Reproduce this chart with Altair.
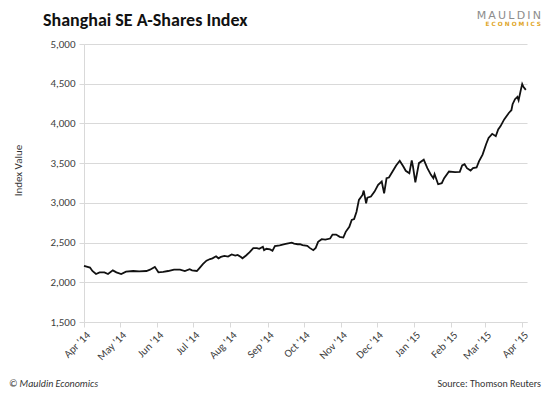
import altair as alt
import pandas as pd

# ---- data ----
dates = [
    "2014-04-01", "2014-04-06", "2014-04-08", "2014-04-11", "2014-04-14", "2014-04-18",
    "2014-04-21", "2014-04-25", "2014-04-28", "2014-05-02", "2014-05-06", "2014-05-12",
    "2014-05-17", "2014-05-23", "2014-05-26", "2014-05-30", "2014-06-02", "2014-06-06",
    "2014-06-10", "2014-06-15", "2014-06-20", "2014-06-24", "2014-06-28", "2014-06-30",
    "2014-07-04", "2014-07-06", "2014-07-09", "2014-07-12", "2014-07-15", "2014-07-17",
    "2014-07-20", "2014-07-22", "2014-07-24", "2014-07-27", "2014-07-30", "2014-08-02",
    "2014-08-05", "2014-08-07", "2014-08-10", "2014-08-11", "2014-08-14", "2014-08-17",
    "2014-08-20", "2014-08-23", "2014-08-25", "2014-08-28", "2014-08-29", "2014-08-31",
    "2014-09-03", "2014-09-05", "2014-09-07", "2014-09-11", "2014-09-16", "2014-09-21",
    "2014-09-23", "2014-09-26", "2014-09-28", "2014-09-30", "2014-10-04", "2014-10-06",
    "2014-10-09", "2014-10-11", "2014-10-13", "2014-10-16", "2014-10-19", "2014-10-23",
    "2014-10-25", "2014-10-28", "2014-10-31", "2014-11-03", "2014-11-05", "2014-11-08",
    "2014-11-10", "2014-11-12", "2014-11-14", "2014-11-16", "2014-11-19", "2014-11-20",
    "2014-11-22", "2014-11-23", "2014-11-26", "2014-11-29", "2014-12-02", "2014-12-05",
    "2014-12-07", "2014-12-09", "2014-12-11", "2014-12-14", "2014-12-17", "2014-12-20",
    "2014-12-23", "2014-12-25", "2014-12-28", "2014-12-30", "2014-12-31", "2015-01-02",
    "2015-01-05", "2015-01-09", "2015-01-12", "2015-01-15", "2015-01-17", "2015-01-18",
    "2015-01-21", "2015-01-24", "2015-01-26", "2015-01-30", "2015-02-04", "2015-02-08",
    "2015-02-10", "2015-02-12", "2015-02-14", "2015-02-17", "2015-02-19", "2015-02-22",
    "2015-02-24", "2015-02-27", "2015-03-02", "2015-03-04", "2015-03-07", "2015-03-10",
    "2015-03-12", "2015-03-14", "2015-03-17", "2015-03-21", "2015-03-23", "2015-03-24",
    "2015-03-26", "2015-03-28", "2015-03-29", "2015-03-31", "2015-04-01", "2015-04-02",
    "2015-04-04",
]
values = [
    2207, 2185, 2142, 2104, 2125, 2125,
    2104, 2150, 2125, 2104, 2133, 2142,
    2138, 2142, 2159, 2194, 2125, 2130,
    2142, 2159, 2159, 2142, 2165, 2150,
    2142, 2176, 2228, 2272, 2293, 2302,
    2328, 2302, 2319, 2332, 2324, 2350,
    2337, 2345, 2315, 2302, 2337, 2380,
    2431, 2431, 2422, 2448, 2405, 2422,
    2414, 2396, 2457, 2466, 2483, 2500,
    2487, 2479, 2480, 2467, 2458, 2433,
    2404, 2433, 2509, 2543, 2538, 2551,
    2601, 2601, 2572, 2563, 2635, 2699,
    2784, 2796, 2889, 3037, 3100, 3155,
    2994, 3066, 3079, 3142, 3226, 3268,
    3120, 3310, 3319, 3395, 3471, 3530,
    3458, 3404, 3373, 3534, 3458, 3259,
    3500, 3543, 3437, 3353, 3310, 3361,
    3234, 3247, 3310, 3395, 3386, 3390,
    3471, 3487, 3437, 3407, 3437, 3445,
    3522, 3607, 3741, 3818, 3869, 3839,
    3924, 3966, 4051, 4135, 4166, 4242,
    4305, 4334, 4292, 4432, 4496, 4461,
    4423,
]
y_ticks = [1500, 2000, 2500, 3000, 3500, 4000, 4500, 5000]
tick_months = [(2014, m) for m in range(4, 13)] + [(2015, m) for m in range(1, 5)]

title_text = "Shanghai SE A-Shares Index"
logo_top = "M\u2009A\u2009U\u2009L\u2009D\u2009I\u2009N"
logo_bottom = "E C O N O M I C S"
footer_left = "© Mauldin Economics"
footer_right = "Source: Thomson Reuters"

df = pd.DataFrame({"date": dates, "value": values})

FONT = "Carlito, Lato, sans-serif"
W, H = 443, 278
GRID = "#d9d9d9"

x_enc = alt.X(
    "utcyearmonthdate(date):T",
    scale=alt.Scale(domain=[alt.DateTime(year=2014, month=4, date=1, utc=True),
                            alt.DateTime(year=2015, month=4, date=5, utc=True)]),
    axis=alt.Axis(
        values=[alt.DateTime(year=y, month=m, date=1, utc=True) for y, m in tick_months],
        format="%b '%y", labelAngle=-45, grid=False, title=None,
        domainColor=GRID, tickColor=GRID, tickSize=5, labelPadding=2,
        labelFont=FONT, labelFontSize=11, labelColor="#404040",
        labelOverlap=False, labelBound=False, labelFlush=False,
    ),
)
y_enc = alt.Y(
    "value:Q",
    scale=alt.Scale(domain=[1500, 5000], nice=False, zero=False),
    axis=alt.Axis(
        values=y_ticks, format=",.0f", grid=True, gridColor=GRID,
        domainColor=GRID, tickColor=GRID, tickSize=5, labelPadding=4,
        labelFont=FONT, labelFontSize=11, labelColor="#404040",
        title="Index Value", titleFont=FONT, titleFontSize=11,
        titleFontWeight="normal", titleColor="#333333",
        titleX=-61, titleY=126, titleAngle=270,
    ),
)

line = alt.Chart(df).mark_line(color="#111111", strokeWidth=1.8, interpolate="linear").encode(
    x=x_enc, y=y_enc
)


def text_layer(txt, x, y, **kw):
    return alt.Chart(pd.DataFrame({"t": [txt]})).mark_text(**kw).encode(
        text="t:N", x=alt.value(x), y=alt.value(y)
    )


title = text_layer(title_text, -41, -18, align="left", baseline="alphabetic",
                   font=FONT, fontSize=18, fontWeight="bold", color="#111111")
logo1 = text_layer(logo_top, 457, -25, align="right", baseline="alphabetic",
                   font="DejaVu Sans", fontSize=11, color="#8c8c8c")
logo2 = text_layer(logo_bottom, 457, -18, align="right", baseline="alphabetic",
                   font="DejaVu Sans", fontSize=5.8, fontWeight="bold", color="#e0a526")
foot1 = text_layer(footer_left, -75, 343, align="left", baseline="alphabetic",
                   font=FONT, fontSize=10, fontStyle="italic", color="#333333")
foot2 = text_layer(footer_right, 457, 343, align="right", baseline="alphabetic",
                   font=FONT, fontSize=10, color="#333333")

chart = alt.layer(line, title, logo1, logo2, foot1, foot2).properties(
    width=W, height=H,
    padding={"left": 76, "top": 36, "right": 15, "bottom": 69},
    autosize=alt.AutoSizeParams(type="none"),
).configure_view(stroke=None)

chart.save("out.html", embed_options={"renderer": "svg", "actions": False})
